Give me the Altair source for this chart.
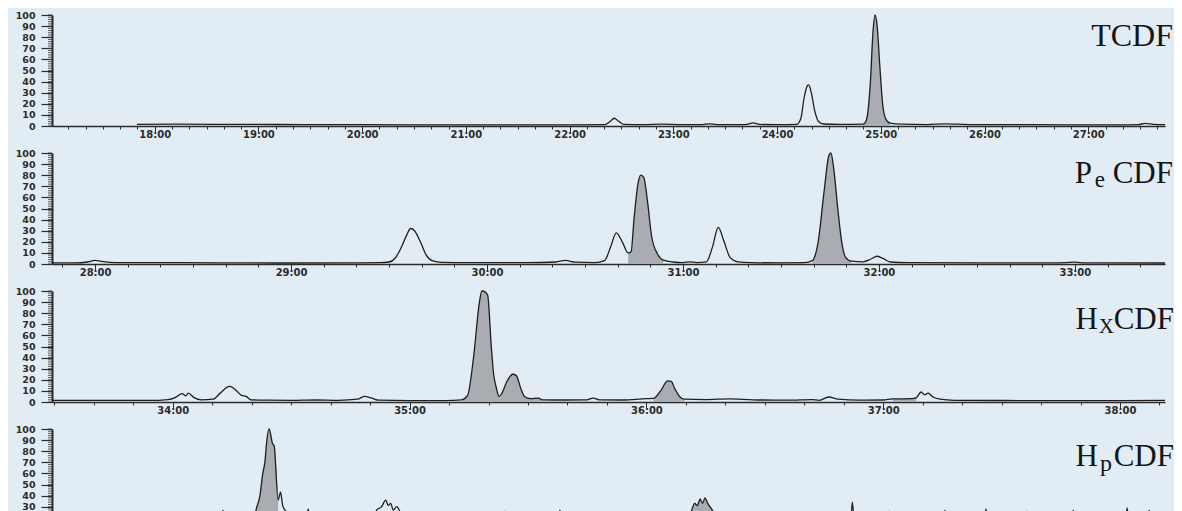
import math
import altair as alt
import pandas as pd

# ---------------- data ----------------
title_head = ["TCDF", "P", "H", "H"]
title_sub = ["", "e", "X", "p"]
title_tail = ["", "CDF", "CDF", "CDF"]

time_domains = [[17.01, 27.74], [27.78, 33.46], [33.49, 38.19], [38.2, 42.9]]

y_ticks = list(range(0, 101, 10))
y_minor = list(range(0, 101, 2))

tcdf = [(17.83, 1.5), (18.2, 1.6), (18.6, 1.5), (19.0, 1.4), (19.5, 1.3), (20.0, 1.2), (20.5, 1.1),
        (21.0, 1.0), (21.5, 1.0), (22.0, 1.0), (22.34, 1.2), (22.39, 4.0), (22.43, 7.0), (22.47, 4.5),
        (22.52, 1.5), (22.7, 1.2), (22.9, 1.6), (23.05, 1.3), (23.28, 1.2), (23.35, 2.0), (23.42, 1.2),
        (23.65, 1.2), (23.71, 1.5), (23.77, 2.8), (23.83, 1.4), (24.0, 1.2), (24.19, 1.5), (24.23, 7.0),
        (24.26, 25.0), (24.29, 36.0), (24.305, 37.0), (24.33, 30.0), (24.36, 15.0), (24.40, 4.0),
        (24.45, 1.8), (24.6, 1.4), (24.83, 1.7), (24.86, 5.0), (24.90, 40.0), (24.925, 85.0),
        (24.945, 100.0), (24.965, 90.0), (24.99, 55.0), (25.02, 18.0), (25.05, 6.0), (25.09, 2.5),
        (25.2, 1.6), (25.45, 1.3), (25.62, 1.9), (25.75, 1.6), (25.9, 1.3), (26.3, 1.2), (26.8, 1.1),
        (27.3, 1.1), (27.48, 1.3), (27.55, 2.3), (27.63, 1.4), (27.74, 1.2)]

pecdf = [(27.78, 1.0), (27.9, 1.0), (27.96, 1.8), (28.0, 3.2), (28.04, 2.2), (28.1, 1.3), (28.3, 1.2),
         (28.6, 1.1), (29.0, 0.9), (29.3, 1.0), (29.45, 1.2), (29.5, 1.8), (29.53, 5.0), (29.56, 14.0),
         (29.59, 26.0), (29.61, 32.0), (29.63, 30.0), (29.66, 20.0), (29.69, 8.0), (29.72, 3.0),
         (29.77, 1.5), (29.9, 1.2), (30.2, 1.3), (30.35, 1.8), (30.40, 3.2), (30.45, 1.6), (30.55, 1.2),
         (30.6, 3.0), (30.63, 15.0), (30.66, 28.0), (30.69, 20.0), (30.72, 10.0), (30.735, 11.0),
         (30.75, 40.0), (30.77, 72.0), (30.785, 80.0), (30.80, 78.0), (30.82, 55.0), (30.84, 25.0),
         (30.87, 9.0), (30.9, 3.5), (30.95, 1.8), (31.0, 1.3), (31.035, 2.0), (31.07, 1.3), (31.12, 2.0),
         (31.15, 15.0), (31.18, 33.0), (31.21, 20.0), (31.24, 6.0), (31.28, 2.0), (31.35, 1.3),
         (31.5, 1.0), (31.62, 1.2), (31.66, 3.0), (31.69, 20.0), (31.72, 65.0), (31.745, 98.0),
         (31.755, 100.0), (31.77, 85.0), (31.79, 50.0), (31.81, 20.0), (31.83, 6.0), (31.86, 2.5),
         (31.92, 2.0), (31.96, 4.5), (31.99, 7.0), (32.02, 5.0), (32.06, 1.8), (32.15, 1.3),
         (32.5, 1.1), (32.9, 1.0), (33.0, 1.6), (33.05, 1.0), (33.46, 0.9)]

hxcdf = [(33.49, 1.5), (33.7, 1.5), (33.9, 1.4), (33.98, 2.2), (34.01, 4.0), (34.04, 7.5), (34.055, 5.5),
         (34.065, 8.0), (34.09, 4.0), (34.12, 2.0), (34.17, 2.5), (34.2, 8.0), (34.24, 14.0),
         (34.27, 10.0), (34.29, 6.0), (34.31, 5.0), (34.33, 2.0), (34.4, 1.6), (34.5, 1.4), (34.6, 1.8),
         (34.7, 1.5), (34.78, 2.5), (34.81, 5.0), (34.84, 3.5), (34.87, 1.6), (35.0, 1.2), (35.15, 1.3),
         (35.22, 2.0), (35.245, 6.0), (35.27, 40.0), (35.295, 90.0), (35.305, 100.0), (35.32, 99.0),
         (35.33, 96.0), (35.345, 50.0), (35.355, 25.0), (35.365, 14.0), (35.378, 5.0), (35.39, 8.0),
         (35.41, 18.0), (35.435, 25.0), (35.45, 24.0), (35.47, 12.0), (35.485, 5.0), (35.51, 3.0),
         (35.545, 3.5), (35.56, 2.0), (35.65, 1.8), (35.75, 2.0), (35.775, 3.5), (35.8, 2.0),
         (35.9, 1.8), (36.0, 3.0), (36.03, 3.2), (36.06, 10.0), (36.09, 19.0), (36.105, 18.5),
         (36.12, 12.0), (36.14, 5.0), (36.16, 2.5), (36.25, 2.2), (36.35, 2.8), (36.45, 2.0),
         (36.6, 1.6), (36.7, 2.2), (36.73, 1.5), (36.77, 4.5), (36.81, 2.5), (36.9, 1.6), (37.0, 1.8),
         (37.04, 2.8), (37.12, 3.0), (37.14, 4.0), (37.16, 9.0), (37.175, 6.5), (37.19, 8.0),
         (37.21, 4.5), (37.24, 2.5), (37.3, 1.5), (37.6, 1.3), (38.0, 1.2), (38.19, 1.4)]

hpcdf = [(38.2, 9), (38.5, 10), (38.8, 9), (38.91, 10), (38.922, 27), (38.935, 10), (39.0, 11),
         (39.04, 14), (39.05, 18), (39.064, 29), (39.078, 40), (39.09, 60), (39.1, 72), (39.105, 85),
         (39.117, 100), (39.131, 87), (39.138, 85), (39.155, 36), (39.165, 43), (39.174, 31),
         (39.188, 26), (39.2, 24), (39.22, 18), (39.25, 12), (39.27, 10), (39.282, 28), (39.295, 10),
         (39.4, 9), (39.55, 11), (39.571, 27), (39.592, 30), (39.609, 36), (39.62, 31), (39.63, 33),
         (39.641, 27), (39.656, 30), (39.67, 25), (39.69, 12), (39.9, 10), (40.1, 10), (40.113, 26),
         (40.125, 10), (40.33, 10), (40.345, 27), (40.36, 10), (40.6, 9), (40.85, 10), (40.89, 16),
         (40.903, 28), (40.914, 33), (40.925, 31), (40.937, 37), (40.947, 33), (40.958, 38),
         (40.969, 33), (40.985, 28), (41.0, 22), (41.02, 12), (41.2, 10), (41.43, 10), (41.439, 25),
         (41.45, 10), (41.57, 10), (41.58, 34), (41.59, 10), (41.73, 10), (41.737, 26), (41.745, 10),
         (41.96, 10), (41.971, 27), (41.98, 10), (42.135, 10), (42.144, 28), (42.155, 10), (42.31, 10),
         (42.317, 26), (42.325, 10), (42.5, 10), (42.512, 27), (42.525, 10), (42.73, 10), (42.74, 29),
         (42.75, 10), (42.82, 10), (42.833, 27), (42.845, 10), (42.87, 10), (42.881, 25), (42.9, 10)]

series = [tcdf, pecdf, hxcdf, hpcdf]

shade_ranges = [
    [(24.83, 25.09)],
    [(30.72, 30.9), (31.66, 31.86)],
    [(35.22, 35.56), (36.03, 36.16), (37.04, 37.14)],
    [(39.05, 39.16), (40.89, 41.0)],
]

# ---------------- layout / style ----------------
W = 1113
H = 111
BG = "#e2ecf4"
INK = "#1e1e1e"
SERIF = "Liberation Serif"

# title placement per panel (plot-area pixels): right edges and baselines
title_cfg = [
    dict(head_x=1121, sub_x=None, tail_x=None, base=31, sub_dy=0, size=32, sub_size=23),
    dict(head_x=1040, sub_x=1053, tail_x=1121, base=30, sub_dy=4, size=31, sub_size=23),
    dict(head_x=1046, sub_x=1062, tail_x=1122, base=38, sub_dy=4, size=31, sub_size=21),
    dict(head_x=1046, sub_x=1060, tail_x=1122, base=37, sub_dy=5, size=31, sub_size=24),
]

MAJOR_TEST = "abs(datum.value - round(datum.value)) < 0.01"


def text_layer(s, x, y, size):
    return alt.Chart(pd.DataFrame({"s": [s]})).mark_text(
        align="right", baseline="alphabetic", font=SERIF, fontSize=size, color="#151515"
    ).encode(text="s:N", x=alt.value(x), y=alt.value(y))


def panel(i):
    df = pd.DataFrame(series[i], columns=["t", "y"])
    lo, hi = time_domains[i]
    xt = [round(m / 6.0, 5) for m in range(math.ceil(lo * 6), math.floor(hi * 6) + 1)]
    xs = alt.Scale(domain=[lo, hi], nice=False, zero=False)
    ys = alt.Scale(domain=[0, 100], nice=False)
    xaxis = alt.Axis(
        values=xt, title=None, labelExpr=f"{MAJOR_TEST} ? round(datum.value) + ':00' : ''",
        tickSize={"condition": {"test": MAJOR_TEST, "value": 6}, "value": 3},
        labelPadding=-3, labelOverlap=False, labelFlush=False, labelBound=False,
        domainWidth=1.3, tickWidth=1, labelFontSize=10,
    )
    yaxis = alt.Axis(values=y_ticks, title=None, tickSize=11, labelPadding=6,
                     domainWidth=2, tickWidth=1.2, labelFontSize=9.5)
    X = alt.X("t:Q", scale=xs, axis=xaxis)
    Y = alt.Y("y:Q", scale=ys, axis=yaxis)
    base = alt.Chart(df)
    layers = []
    for a, b in shade_ranges[i]:
        layers.append(
            base.transform_filter(f"datum.t >= {a - 1e-6} && datum.t <= {b + 1e-6}").mark_area(
                color="#a9adb1", interpolate="monotone", opacity=1
            ).encode(x=X, y=Y)
        )
    line = base.mark_line(color=INK, strokeWidth=1.3, interpolate="monotone").encode(x=X, y=Y)
    minor = alt.Chart(pd.DataFrame({"y": y_minor})).mark_rule(color="#333", strokeWidth=0.8).encode(
        y=alt.Y("y:Q", scale=ys, axis=yaxis), x=alt.value(-4), x2=alt.value(0)
    )
    c = title_cfg[i]
    layers += [line, minor, text_layer(title_head[i], c["head_x"], c["base"], c["size"])]
    if title_sub[i]:
        layers.append(text_layer(title_sub[i], c["sub_x"], c["base"] + c["sub_dy"], c["sub_size"]))
        layers.append(text_layer(title_tail[i], c["tail_x"], c["base"], c["size"]))
    return alt.layer(*layers).properties(width=W, height=H)


chart = alt.vconcat(*[panel(i) for i in range(4)], spacing=27, bounds="flush").properties(
    padding={"left": 7, "top": 2, "right": 0, "bottom": 0}, background=BG
).configure_view(stroke=None).configure_axis(
    grid=False, domainColor="#2a2a2a", tickColor="#2a2a2a",
    labelFont="DejaVu Sans", labelFontWeight="bold", labelColor="#2b2b2b",
)

chart.save("out.html", embed_options={"renderer": "svg", "actions": False})
